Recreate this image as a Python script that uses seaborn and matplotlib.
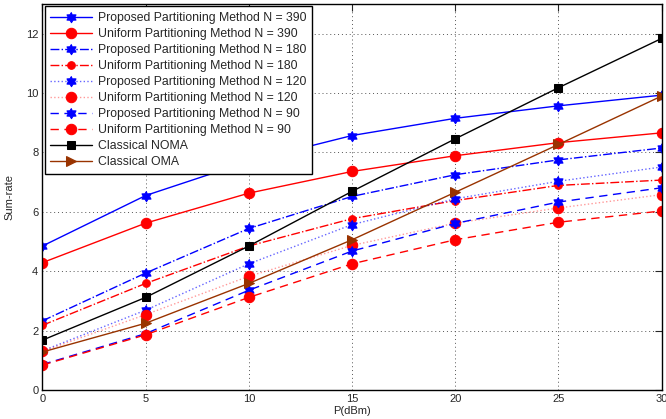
import numpy as np
import matplotlib
matplotlib.use("Agg")
import matplotlib.pyplot as plt
import seaborn as sns
from matplotlib.colors import to_rgba

# data
p_dbm = [0, 5, 10, 15, 20, 25, 30]

prop_390 = [4.85, 6.55, 7.70, 8.57, 9.15, 9.57, 9.93]
unif_390 = [4.29, 5.62, 6.63, 7.36, 7.89, 8.33, 8.66]
prop_180 = [2.33, 3.94, 5.44, 6.52, 7.25, 7.75, 8.15]
unif_180 = [2.18, 3.59, 4.85, 5.77, 6.38, 6.89, 7.07]
prop_120 = [1.32, 2.69, 4.25, 5.57, 6.44, 7.03, 7.51]
unif_120 = [1.30, 2.54, 3.83, 4.87, 5.62, 6.13, 6.58]
prop_90 = [0.86, 1.90, 3.36, 4.68, 5.61, 6.33, 6.81]
unif_90 = [0.84, 1.86, 3.12, 4.25, 5.06, 5.65, 6.03]
noma = [1.68, 3.12, 4.85, 6.69, 8.46, 10.18, 11.84]
oma = [1.28, 2.25, 3.59, 5.06, 6.66, 8.27, 9.90]

sns.set_style("white")
plt.rcParams['font.family'] = ['Liberation Sans', 'DejaVu Sans']

# MATLAB-like hexagram marker
ang = np.pi / 2 + np.arange(12) * np.pi / 6
rad = np.where(np.arange(12) % 2 == 0, 1.0, 0.6)
hexagram = list(zip(rad * np.cos(ang), rad * np.sin(ang)))

fig = plt.figure(figsize=(6.66, 4.19), dpi=100)
ax = fig.add_axes([0.0638, 0.0692, 0.9297, 0.9213])

blue = "#0000ff"
red = "#ff0000"
series = [
    (prop_390, "Proposed Partitioning Method N = 390", blue, "-", hexagram, 7.5, 1.0),
    (unif_390, "Uniform Partitioning Method N = 390", red, "-", "o", 7.5, 1.0),
    (prop_180, "Proposed Partitioning Method N = 180", blue, "-.", hexagram, 7.5, 1.0),
    (unif_180, "Uniform Partitioning Method N = 180", red, "-.", "o", 5.5, 1.0),
    (prop_120, "Proposed Partitioning Method N = 120", blue, ":", hexagram, 7.5, 0.6),
    (unif_120, "Uniform Partitioning Method N = 120", red, ":", "o", 7.5, 0.4),
    (prop_90, "Proposed Partitioning Method N = 90", blue, (0, (6, 4)), hexagram, 7.5, 1.0),
    (unif_90, "Uniform Partitioning Method N = 90", red, (0, (6, 4)), "o", 7.5, 1.0),
    (noma, "Classical NOMA", "black", "-", "s", 5.5, 1.0),
    (oma, "Classical OMA", "#993300", "-", ">", 7, 1.0),
]

for y, lab, col, ls, mk, ms, alpha in series:
    sns.lineplot(x=p_dbm, y=y, ax=ax, label=lab, color=col, linestyle=ls,
                 marker=mk, markersize=ms, markeredgecolor=col,
                 markerfacecolor=col, linewidth=1.0)
    ln = ax.lines[-1]
    if alpha < 1:
        ln.set_color(to_rgba(col, alpha))
        ln.set_markerfacecolor(col)
        ln.set_markeredgecolor(col)

ax.set_xlim(0, 30)
ax.set_ylim(0, 13)
ax.set_xticks(range(0, 31, 5))
ax.set_yticks(range(0, 13, 2))
ax.grid(True, linestyle=(0, (1, 3)), color="#555555", linewidth=0.7)
ax.tick_params(direction="in", top=True, right=True, labelsize=8, length=5,
               width=0.8, pad=3)
for s in ax.spines.values():
    s.set_color("black")
    s.set_linewidth(1.0)
ax.set_xlabel("P(dBm)", fontsize=8, labelpad=1)
ax.set_ylabel("Sum-rate", fontsize=8, labelpad=8)

leg = ax.legend(loc="upper left", fontsize=8.8, frameon=True, fancybox=False,
                edgecolor="black", framealpha=1, borderaxespad=0.2,
                labelspacing=0.33, handlelength=3.4, handletextpad=0.5,
                borderpad=0.45)
leg.get_frame().set_linewidth(1.0)

fig.savefig("out.png", dpi=100)
